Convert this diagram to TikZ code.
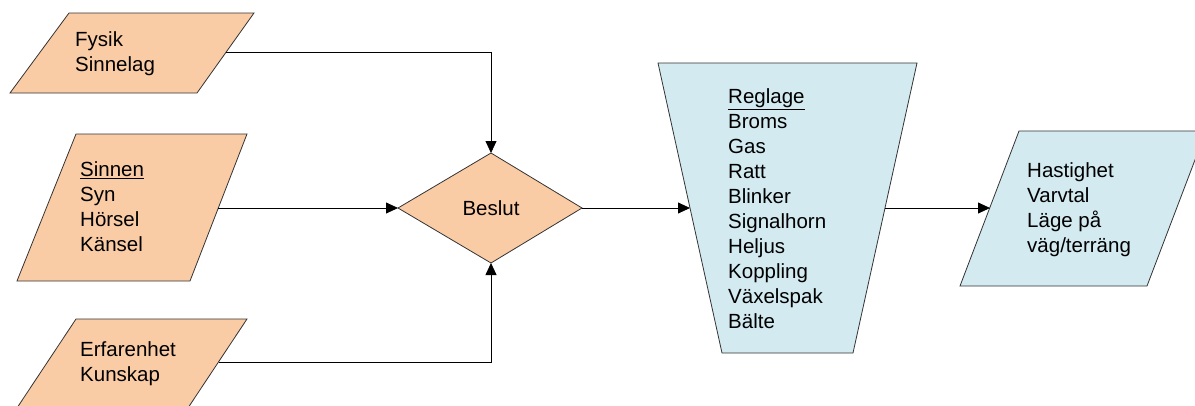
\documentclass[tikz,border=0pt]{standalone}
\usepackage{fontspec}
\setmainfont{Liberation Sans}
\usetikzlibrary{arrows.meta}
\definecolor{peach}{RGB}{250,204,166}
\definecolor{paleblue}{RGB}{210,234,240}
\begin{document}
\begin{tikzpicture}[x=1pt,y=-1pt,
  shapeline/.style={draw=black!80,line width=0.8pt},
  infill/.style={shapeline,fill=peach},
  outfill/.style={shapeline,fill=paleblue},
  txt/.style={inner sep=0pt,anchor=west,align=left,font=\fontsize{20.5}{25}\selectfont},
  link/.style={line width=0.8pt,-{Triangle[length=12pt,width=11pt]}}]
\useasboundingbox (0,0) rectangle (1195,405);
\clip (0,0) rectangle (1195,405);

% input boxes
\draw[infill] (69,13) -- (254,13) -- (197,93) -- (10,93) -- cycle;
\draw[infill] (76,134) -- (247,134) -- (190,281) -- (17,281) -- cycle;
\draw[infill] (76,319) -- (247,319) -- (180,420) -- (9,420) -- cycle;

% decision
\draw[infill] (491,153) -- (582,208) -- (491,263) -- (398,208) -- cycle;

% controls
\draw[outfill] (658,63) -- (917,63) -- (853,353) -- (722,353) -- cycle;

% result
\draw[outfill] (1019,131) -- (1206,131) -- (1147,286) -- (960,286) -- cycle;

% texts
\node[txt] (fysik) at (75,54) {Fysik\\Sinnelag};
\node[txt] (sinnen) at (80,207) {\underline{Sinnen}\\Syn\\Hörsel\\Känsel};
\node[txt] (erf) at (80,364) {Erfarenhet\\Kunskap};
\node[txt,anchor=center] (beslut) at (491,208) {Beslut};
\node[txt] (reglage) at (728,209) {\underline{Reglage}\\Broms\\Gas\\Ratt\\Blinker\\Signalhorn\\Heljus\\Koppling\\Växelspak\\Bälte};
\node[txt] (hast) at (1027,210) {Hastighet\\Varvtal\\Läge på\\väg/terräng};

% connector end points on the shape outlines
\coordinate (fysOut) at (226,52);
\coordinate (sinOut) at (218,208);
\coordinate (erfOut) at (218.5,362);
\coordinate (dTop) at (491,153);
\coordinate (dLeft) at (398,208);
\coordinate (dRight) at (582,208);
\coordinate (dBot) at (491,263);
\coordinate (tIn) at (690,208);
\coordinate (tOut) at (885,208);
\coordinate (rIn) at (990,208);

% connectors
\draw[link] (fysOut) -| (dTop);
\draw[link] (sinOut) -- (dLeft);
\draw[link] (erfOut) -| (dBot);
\draw[link] (dRight) -- (tIn);
\draw[link] (tOut) -- (rIn);
\end{tikzpicture}
\end{document}
